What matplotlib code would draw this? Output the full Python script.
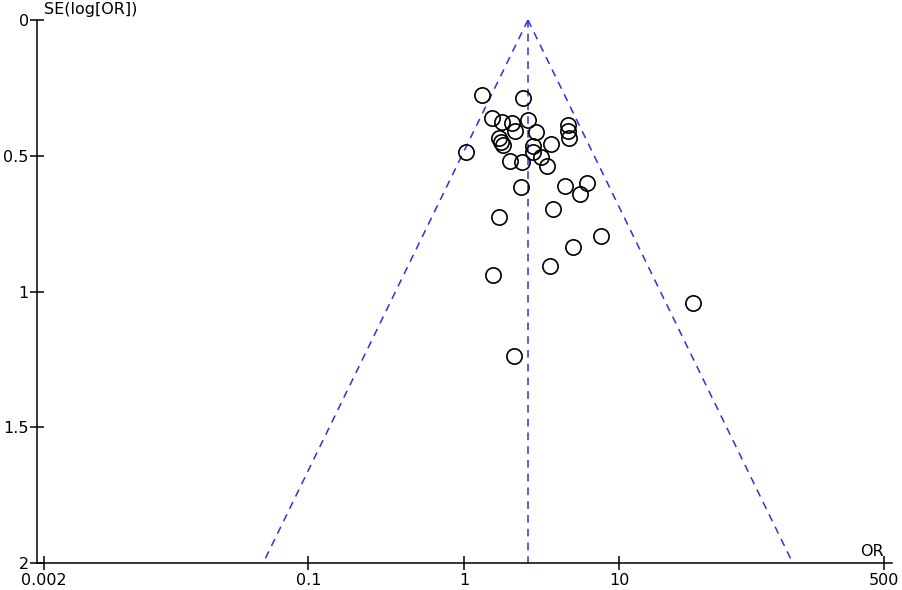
import numpy as np
import matplotlib
matplotlib.use("Agg")
import matplotlib.pyplot as plt

# study odds ratios and standard errors of log(OR)
odds_ratio = [1.31, 2.40, 1.51, 1.75, 2.04, 2.58, 2.13, 2.90, 4.67, 4.67,
              4.73, 1.68, 1.73, 1.78, 2.78, 2.78, 3.63, 3.13, 1.03, 1.98,
              2.36, 3.42, 2.33, 4.46, 6.18, 5.57, 3.74, 1.68, 7.60, 5.02,
              3.57, 1.54, 29.7, 2.10]
se_log_or = [0.276, 0.287, 0.361, 0.376, 0.379, 0.368, 0.409, 0.413, 0.387, 0.409,
             0.435, 0.435, 0.449, 0.460, 0.464, 0.486, 0.457, 0.505, 0.486, 0.519,
             0.523, 0.538, 0.615, 0.611, 0.600, 0.641, 0.696, 0.726, 0.796, 0.836,
             0.906, 0.939, 1.042, 1.238]
pooled_or = 2.58

x_ticks = [0.002, 0.1, 1, 10, 500]
x_labels = ["0.002", "0.1", "1", "10", "500"]
y_ticks = [0, 0.5, 1, 1.5, 2]
y_labels = ["0", "0.5", "1", "1.5", "2"]

plt.rcParams["font.family"] = ["DejaVu Sans"]

fig = plt.figure(figsize=(9.02, 5.90), dpi=100)
ax = fig.add_axes([37 / 902, 27 / 590, 855 / 902, 543 / 590])

# funnel: 95% limits around the pooled estimate
se_line = np.array([0.0, 2.0])
lo = pooled_or * np.exp(-1.96 * se_line)
hi = pooled_or * np.exp(1.96 * se_line)
dash = dict(color="#2a33dd", lw=1.1, ls=(0, (5, 4)))
ax.plot(lo, se_line, **dash)
ax.plot(hi, se_line, **dash)
ax.plot([pooled_or, pooled_or], [0, 2], **dash)

ax.plot(odds_ratio, se_log_or, "o", ms=11, mfc="none", mec="black", mew=1.2)

ax.set_xscale("log")
ax.set_xlim(0.0018, 565)
ax.set_ylim(2, 0)
ax.set_xticks(x_ticks)
ax.set_xticklabels(x_labels)
ax.minorticks_off()
ax.set_yticks(y_ticks)
ax.set_yticklabels(y_labels)
ax.tick_params(direction="inout", length=10, width=1.1, labelsize=11.5, pad=1)
ax.tick_params(axis="x", pad=2)

for s in ["top", "right"]:
    ax.spines[s].set_visible(False)
for s in ["left", "bottom"]:
    ax.spines[s].set_linewidth(1.1)

ax.text(0.008, 1.006, "SE(log[OR])", transform=ax.transAxes, fontsize=11.5,
        ha="left", va="bottom")
ax.text(0.977, 0.008, "OR", transform=ax.transAxes, fontsize=11.5,
        ha="center", va="bottom")

fig.savefig("out.png", dpi=100)
